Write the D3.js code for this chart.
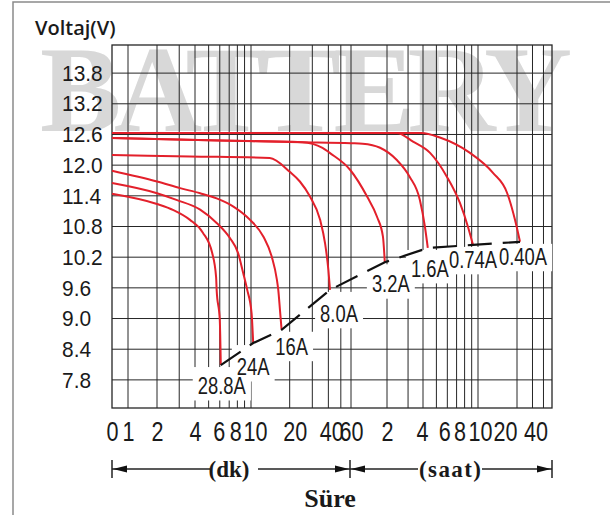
<!DOCTYPE html>
<html>
<head>
<meta charset="utf-8">
<script src="https://cdn.jsdelivr.net/npm/d3@7"></script>
<style>
  body { margin: 0; background: #fff; }
  .narrow { font-family: 'Liberation Sans', Arial, sans-serif; }
</style>
</head>
<body>
<script>
// discharge currents, one curve each (time in minutes, voltage in V)
const currents = ['28.8A', '24A', '16A', '8.0A', '3.2A', '1.6A', '0.74A', '0.40A'];

const c28_8 = [[0, 11.44], [2, 11.24], [2.7, 11.12], [3.65, 10.93], [4.55, 10.68], [5.3, 10.28], [5.65, 9.81], [5.7, 9.56], [6.0, 8.97], [6.1, 8.09]];
const c24   = [[0, 11.65], [2, 11.45], [2.85, 11.32], [4.35, 11.13], [5.7, 10.87], [7.1, 10.57], [8.1, 10.28], [8.8, 9.89], [9.4, 9.56], [10.1, 9.11], [10.4, 8.52]];
const c16   = [[0, 11.89], [2, 11.68], [3.05, 11.55], [4.35, 11.45], [5.7, 11.35], [7.5, 11.19], [9.85, 10.93], [12.5, 10.6], [14.5, 10.21], [15.9, 9.76], [16.3, 9.56], [16.8, 9.17], [17.3, 8.78]];
const c8_0  = [[0, 12.2], [3.65, 12.17], [14, 12.14], [20, 11.87], [24, 11.68], [28.7, 11.39], [34.5, 10.93], [37.7, 10.47], [40, 9.95], [41.2, 9.56]];
const c3_2  = [[0, 12.53], [6, 12.48], [25, 12.45], [36, 12.34], [41, 12.24], [59, 11.91], [82, 11.38], [99, 10.99], [111, 10.6], [115, 10.1]];
const c1_6  = [[0, 12.53], [6, 12.48], [25, 12.45], [60, 12.43], [75, 12.42], [105, 12.34], [145, 12.1], [186, 11.77], [226, 11.32], [248, 10.79], [260, 10.38]];
const c0_74 = [[0, 12.63], [145, 12.63], [198, 12.46], [270, 12.24], [358, 11.77], [444, 11.26], [508, 10.79], [552, 10.44]];
const c0_40 = [[0, 12.63], [234, 12.63], [318, 12.54], [525, 12.24], [783, 11.85], [1005, 11.46], [1158, 10.93], [1298, 10.5]];

const series = [c28_8, c24, c16, c8_0, c3_2, c1_6, c0_74, c0_40];

const voltTicks = [7.8, 8.4, 9.0, 9.6, 10.2, 10.8, 11.4, 12.0, 12.6, 13.2, 13.8];

// x ticks: minutes up to 60, then hours (stored in minutes)
const timeTicks = [0, 1, 2, 4, 6, 8, 10, 20, 40, 60, 120, 240, 360, 480, 600, 1200, 2400];
const timeTickLabels = ['0', '1', '2', '4', '6', '8', '10', '20', '40', '60', '2', '4', '6', '8', '10', '20', '40'];
const gridTimes = [1, 2, 3, 4, 5, 6, 7, 8, 9, 10, 20, 30, 40, 50, 60,
  120, 180, 240, 300, 360, 420, 480, 540, 600, 1200, 1800, 2400];

const W = 610, H = 515;
const pLeft = 112, pRight = 552, pTop = 45, pBottom = 408;
const SQUEEZE = 0.8;   // condensed look of the printed digits

// tick labels are packed by hand in the print, slightly off their lines
const tickNudge = [0, 0, 0, 0, -1, -2, 4, 5, 3, 0, 0, -1, -3, -5, 2, -12, -8];

// hand drawn log axis: piecewise log scale
const x = d3.scaleLog()
  .domain([0.68, 1, 2, 4, 10, 60, 240, 600, 1200, 3000])
  .range([pLeft, 128, 157, 195, 251, 351, 423, 478, 517, pRight])
  .clamp(true);

const y = d3.scaleLinear()
  .domain([7.25, 14.35])
  .range([pBottom, pTop]);

// label placement relative to the end of each curve
const labelOffset = [[1, 29], [0, 32], [10, 25], [9, 32], [6, 30], [2, 29], [0, 23], [3, 23]];

const svg = d3.select('body').append('svg')
  .attr('width', W)
  .attr('height', H);

// outer frame (left + top)
svg.append('path')
  .attr('d', `M13,${H} L13,2 L${W},2`)
  .attr('fill', 'none')
  .attr('stroke', '#8a8a8a')
  .attr('stroke-width', 1.5);

// watermark
svg.append('text')
  .attr('x', 40)
  .attr('y', 131)
  .attr('textLength', 532)
  .attr('lengthAdjust', 'spacing')
  .style('font-family', "'Liberation Serif', serif")
  .style('font-size', '122px')
  .style('font-weight', 'bold')
  .attr('fill', '#d4d4d4')
  .attr('opacity', 0.9)
  .text('BATTERY');

// grid
let grid = svg.append('g').attr('stroke', '#262626').attr('stroke-width', 1);

grid.selectAll('line.v')
  .data(gridTimes)
  .enter()
  .append('line')
  .attr('class', 'v')
  .attr('x1', d => x(d)).attr('x2', d => x(d))
  .attr('y1', pTop).attr('y2', pBottom);

grid.selectAll('line.h')
  .data(voltTicks)
  .enter()
  .append('line')
  .attr('class', 'h')
  .attr('x1', pLeft).attr('x2', pRight)
  .attr('y1', d => y(d)).attr('y2', d => y(d));

svg.append('rect')
  .attr('x', pLeft).attr('y', pTop)
  .attr('width', pRight - pLeft).attr('height', pBottom - pTop)
  .attr('fill', 'none')
  .attr('stroke', '#262626')
  .attr('stroke-width', 1.3);

// axes
let yAxis = svg.append('g')
  .attr('transform', `translate(${pLeft},0)`)
  .call(d3.axisLeft(y).tickValues(voltTicks).tickFormat(d3.format('.1f')).tickSize(0));
yAxis.select('.domain').remove();
yAxis.selectAll('text')
  .attr('x', 0)
  .attr('text-anchor', 'start')
  .attr('transform', `translate(${62 - pLeft},0) scale(0.93,1)`)
  .attr('fill', '#1a1a1a')
  .style('font-family', "'Liberation Sans', Arial, sans-serif")
  .style('font-size', '22.5px');

let xAxis = svg.append('g')
  .attr('transform', `translate(0,${pBottom})`)
  .call(d3.axisBottom(x).tickValues(timeTicks).tickFormat((d, i) => timeTickLabels[i]).tickSize(0).tickPadding(14));
xAxis.select('.domain').remove();
xAxis.selectAll('text')
  .attr('class', 'narrow')
  .attr('transform', (d, i) => `translate(${tickNudge[i]},0) scale(${SQUEEZE},1)`)
  .attr('fill', '#1a1a1a')
  .style('font-size', '27px');

// labels with white backing (drawn before curves)
let ends = series.map(s => s[s.length - 1]);
let labelPos = ends.map((e, i) => [x(e[0]) + labelOffset[i][0], y(e[1]) + labelOffset[i][1]]);

let bg = svg.append('g');
let labels = svg.append('g').attr('class', 'narrow');

labels.selectAll('text')
  .data(currents)
  .enter()
  .append('text')
  .attr('transform', (d, i) => `translate(${labelPos[i][0]},${labelPos[i][1]}) scale(${SQUEEZE},1)`)
  .attr('text-anchor', 'middle')
  .attr('fill', '#1a1a1a')
  .style('font-size', '23px')
  .text(d => d);

labels.selectAll('text').each(function (d, i) {
  let b = this.getBBox();
  let bx = labelPos[i][0] + b.x * SQUEEZE;
  let bw = b.width * SQUEEZE;
  let by = labelPos[i][1] + b.y;
  let yEnd = y(ends[i][1]);
  let y0 = Math.min(yEnd + 2, by);
  bg.append('rect')
    .attr('x', bx - 5)
    .attr('y', y0)
    .attr('width', bw + 10)
    .attr('height', by + b.height + 2 - y0)
    .attr('fill', '#fff');
});

// curves
let line = d3.line()
  .x(d => x(d[0]))
  .y(d => y(d[1]))
  .curve(d3.curveMonotoneX);

svg.append('g')
  .selectAll('path')
  .data(series)
  .enter()
  .append('path')
  .attr('d', line)
  .attr('fill', 'none')
  .attr('stroke', '#e3202b')
  .attr('stroke-width', 2);

// end-of-discharge line
svg.append('path')
  .attr('d', d3.line().x(d => x(d[0])).y(d => y(d[1]))(ends))
  .attr('fill', 'none')
  .attr('stroke', '#111')
  .attr('stroke-width', 2.2)
  .attr('stroke-dasharray', '24,11');

labels.raise();

// title
svg.append('text')
  .attr('x', 35)
  .attr('y', 35)
  .style('font-family', "'Open Sans', 'Noto Sans', sans-serif")
  .style('font-size', '20px')
  .style('font-weight', 600)
  .attr('fill', '#1a1a1a')
  .text('Voltaj(V)');

// time unit arrows
const arrowY = 469;
let ax = svg.append('g').attr('stroke', '#222').attr('stroke-width', 1.5);

[[pLeft, 210], [258, 350], [350, 418], [482, pRight]].forEach(seg => {
  ax.append('line')
    .attr('x1', seg[0]).attr('x2', seg[1])
    .attr('y1', arrowY).attr('y2', arrowY);
});

[pLeft, 350, pRight].forEach(px => {
  ax.append('line')
    .attr('x1', px).attr('x2', px)
    .attr('y1', arrowY - 9).attr('y2', arrowY + 9);
});

function arrowHead(tip, dir)
{
  svg.append('path')
    .attr('d', `M${tip},${arrowY} L${tip - dir * 14},${arrowY - 3.5} L${tip - dir * 14},${arrowY + 3.5} Z`)
    .attr('fill', '#111');
}
arrowHead(pLeft + 1, -1);
arrowHead(349, 1);
arrowHead(351, -1);
arrowHead(pRight - 1, 1);

svg.append('text')
  .attr('x', 229).attr('y', arrowY + 8)
  .attr('text-anchor', 'middle')
  .style('font-family', "'Liberation Serif', serif")
  .style('font-size', '23px')
  .style('font-weight', 'bold')
  .attr('fill', '#1a1a1a')
  .text('(dk)');

svg.append('text')
  .attr('x', 419).attr('y', arrowY + 8)
  .attr('textLength', 62)
  .attr('lengthAdjust', 'spacing')
  .style('font-family', "'Liberation Serif', serif")
  .style('font-size', '23px')
  .style('font-weight', 'bold')
  .attr('fill', '#1a1a1a')
  .text('(saat)');

svg.append('text')
  .attr('x', 330).attr('y', 507)
  .attr('text-anchor', 'middle')
  .style('font-family', "'Liberation Serif', serif")
  .style('font-size', '26px')
  .style('font-weight', 'bold')
  .attr('fill', '#1a1a1a')
  .text('Süre');
</script>
</body>
</html>
